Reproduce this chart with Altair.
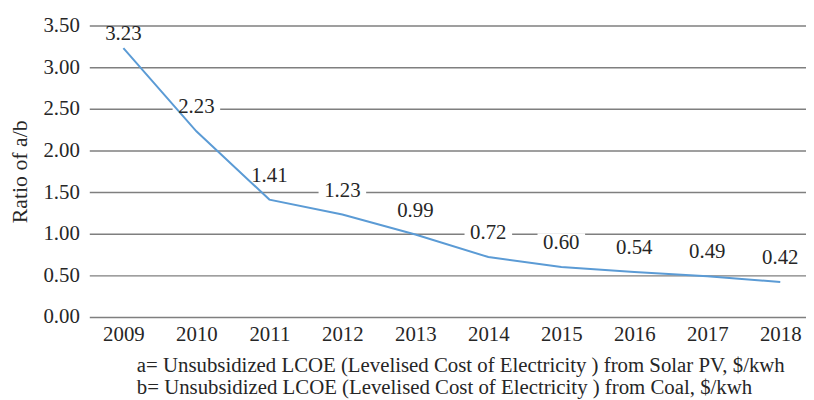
import altair as alt
import pandas as pd

years = ["2009", "2010", "2011", "2012", "2013", "2014", "2015", "2016", "2017", "2018"]
ratios = [3.23, 2.23, 1.41, 1.23, 0.99, 0.72, 0.60, 0.54, 0.49, 0.42]
y_ticks = [0, 0.5, 1.0, 1.5, 2.0, 2.5, 3.0, 3.5]
y_title = "Ratio of a/b"
notes = [
    "a= Unsubsidized LCOE (Levelised Cost of Electricity ) from Solar PV, $/kwh",
    "b= Unsubsidized LCOE (Levelised Cost of Electricity ) from Coal, $/kwh",
]

df = pd.DataFrame({"year": years, "ratio": ratios})
df["label"] = [f"{v:.2f}" for v in ratios]

FONT = "Liberation Serif"
TXT = "#262626"
FS = 21

x = alt.X("year:O", scale=alt.Scale(type="point", padding=0.41, align=0.57),
          axis=alt.Axis(title=None, labelAngle=0, ticks=False, domain=False,
                        labelPadding=7, labelFont=FONT, labelFontSize=FS,
                        labelColor=TXT, grid=False))
y = alt.Y("ratio:Q", scale=alt.Scale(domain=[0, 3.5], nice=False),
          axis=alt.Axis(values=y_ticks, format=".2f", title=y_title,
                        ticks=False, domain=False, labelPadding=10,
                        labelFont=FONT, labelFontSize=FS, labelColor=TXT,
                        titleFont=FONT, titleFontSize=22, titleFontWeight="normal",
                        titleColor=TXT, titlePadding=12,
                        grid=True, gridColor="#7f7f7f", gridWidth=1.5))

base = alt.Chart(df).encode(x=x, y=y)

line = base.mark_line(color="#5b9bd5", strokeWidth=2)

rest = base.transform_filter(alt.datum.year != "2009")
first = base.transform_filter(alt.datum.year == "2009")

boxes = rest.mark_rect(width=48, height=20, yOffset=-24, fill="white", stroke=None)
labels = rest.mark_text(dy=-24, baseline="middle", font=FONT, fontSize=FS, color=TXT).encode(text="label:N")
label0 = first.mark_text(dy=-14, baseline="middle", font=FONT, fontSize=FS, color=TXT).encode(text="label:N")

chart = alt.layer(boxes, line, labels, label0).properties(
    width=723, height=294,
    autosize=alt.AutoSizeParams(type="none"),
    padding={"left": 82, "top": 16, "right": 0, "bottom": 82},
    title=alt.TitleParams(text=notes, orient="bottom", anchor="start", frame="group",
                          dx=48, offset=10, font=FONT, fontSize=FS,
                          fontWeight="normal", color=TXT, lineHeight=23),
).configure_view(stroke=None)

chart.save("out.html", embed_options={"renderer": "svg", "actions": False})
